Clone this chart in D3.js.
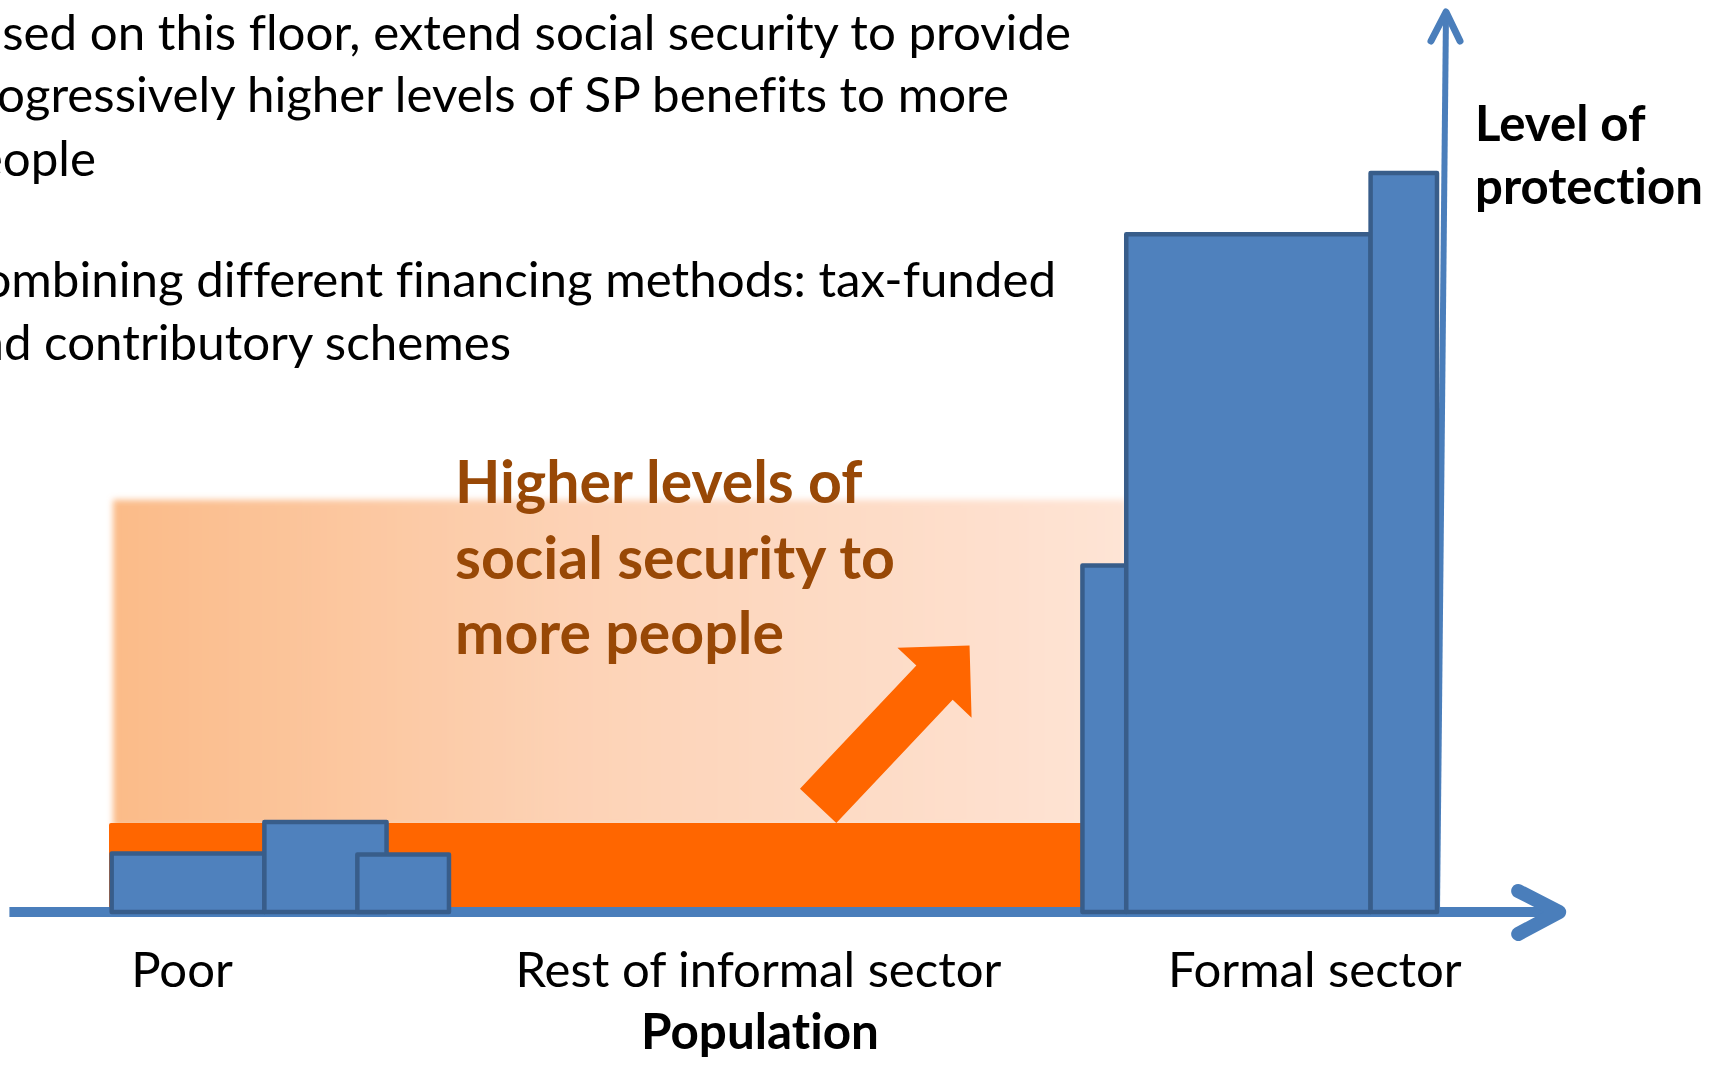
<!DOCTYPE html>
<html>
<head>
<meta charset="utf-8">
<script src="https://cdn.jsdelivr.net/npm/d3@7"></script>
<style>
  html, body { margin: 0; padding: 0; background: #fff; overflow: hidden; }
  svg { display: block; }
  .txt { font-family: Lato, 'Open Sans', sans-serif; fill: #000;
         font-variant-ligatures: none; font-feature-settings: "liga" 0, "dlig" 0; }
</style>
</head>
<body>
<div id="chart"></div>
<script>
// population groups on the x axis (share of population, 0-100)
const segments = ['Poor', 'Rest of informal sector', 'Formal sector'];
const segmentCentres = [5.5, 48.9, 90.8];

// existing protection blocks: start / end on population axis, level of protection
const blockStart = [0.2, 11.7, 18.7, 73.3, 76.6, 95.0];
const blockEnd   = [11.7, 20.9, 25.6, 76.6, 95.0, 100];
const blockLevel = [6.5, 10.0, 6.4, 38.5, 75.3, 82.1];

// social protection floor, and the higher level it should be extended to
const floorFrom = 0, floorTo = 73.3, floorLevel = 9.9;
const targetFrom = 0.3, targetTo = 76.6, targetLevel = 45.8;

// direction arrow (population, level)
const arrowTail = [53.4, 11.8];
const arrowTip  = [64.8, 29.6];

const bulletLines = [
  'Based on this floor, extend social security to provide',
  'progressively higher levels of SP benefits to more',
  'people',
  'Combining different financing methods: tax-funded',
  'and contributory schemes'
];
const calloutLines = ['Higher levels of', 'social security to', 'more people'];
const yTitle = ['Level of', 'protection'];
const xTitle = 'Population';

const W = 1723, H = 1065;
const blue = '#4f81bd', blueLine = '#4a7ebb', blueEdge = '#385d8a', orange = '#ff6600';

const svg = d3.select('#chart').append('svg')
  .attr('width', W).attr('height', H)
  .attr('viewBox', `0 0 ${W} ${H}`);

const x = d3.scaleLinear().domain([0, 100]).range([109, 1437]);
const y = d3.scaleLinear().domain([0, 100]).range([912, 12]);

// font size so that a string has a given width
function fitSize(text, target, weight) {
  const t = svg.append('text').attr('class', 'txt')
    .attr('font-size', 100).attr('font-weight', weight).text(text);
  const w = t.node().getComputedTextLength();
  t.remove();
  return 100 * target / w;
}

const defs = svg.append('defs');
const grad = defs.append('linearGradient').attr('id', 'fade')
  .attr('x1', 0).attr('x2', 1).attr('y1', 0).attr('y2', 0);
grad.append('stop').attr('offset', 0).attr('stop-color', '#fbbb88');
grad.append('stop').attr('offset', 0.45).attr('stop-color', '#fdd2b5');
grad.append('stop').attr('offset', 1).attr('stop-color', '#fee4d5');
defs.append('filter').attr('id', 'soft')
  .attr('x', '-5%').attr('y', '-5%').attr('width', '110%').attr('height', '110%')
  .append('feGaussianBlur').attr('stdDeviation', 3);

// target level (soft faded area)
svg.append('rect')
  .attr('x', x(targetFrom)).attr('y', y(targetLevel))
  .attr('width', x(targetTo) - x(targetFrom))
  .attr('height', y(floorLevel) - y(targetLevel) + 4)
  .attr('fill', 'url(#fade)')
  .attr('filter', 'url(#soft)');

// floor
svg.append('rect')
  .attr('x', x(floorFrom)).attr('y', y(floorLevel))
  .attr('width', x(floorTo) - x(floorFrom))
  .attr('height', y(0) - y(floorLevel))
  .attr('rx', 2)
  .attr('fill', orange);

// arrow
{
  const tx = x(arrowTail[0]), ty = y(arrowTail[1]);
  const px = x(arrowTip[0]), py = y(arrowTip[1]);
  const len = Math.hypot(px - tx, py - ty);
  const ux = (px - tx) / len, uy = (py - ty) / len;
  const nx = -uy, ny = ux;
  const shaft = 25, head = 51, headLen = 51;
  const bx = px - ux * headLen, by = py - uy * headLen;
  const pts = [
    [tx + nx * shaft, ty + ny * shaft],
    [bx + nx * shaft, by + ny * shaft],
    [bx + nx * head, by + ny * head],
    [px, py],
    [bx - nx * head, by - ny * head],
    [bx - nx * shaft, by - ny * shaft],
    [tx - nx * shaft, ty - ny * shaft]
  ];
  svg.append('path').attr('d', d3.line()(pts) + 'Z').attr('fill', orange);
}

// x axis
const xEnd = x(109.2);
svg.append('line')
  .attr('x1', x(-7.5)).attr('x2', xEnd)
  .attr('y1', y(0)).attr('y2', y(0))
  .attr('stroke', blueLine).attr('stroke-width', 10);
svg.append('path')
  .attr('d', d3.line()([[xEnd - 41, y(0) - 21], [xEnd, y(0)], [xEnd - 41, y(0) + 22]]))
  .attr('fill', 'none').attr('stroke', blueLine).attr('stroke-width', 14)
  .attr('stroke-linecap', 'round').attr('stroke-linejoin', 'round');

// y axis (slightly leaning, as drawn)
const yTopX = x(100) + 9;
svg.append('line')
  .attr('x1', x(100)).attr('x2', yTopX)
  .attr('y1', y(0)).attr('y2', y(100))
  .attr('stroke', blueLine).attr('stroke-width', 6);
svg.append('path')
  .attr('d', d3.line()([[yTopX - 15, y(100) + 29], [yTopX, y(100)], [yTopX + 14, y(100) + 29]]))
  .attr('fill', 'none').attr('stroke', blueLine).attr('stroke-width', 7)
  .attr('stroke-linecap', 'round').attr('stroke-linejoin', 'round');

// protection blocks
svg.selectAll('rect.block')
  .data(d3.range(blockStart.length))
  .enter().append('rect')
  .attr('class', 'block')
  .attr('x', i => x(blockStart[i]))
  .attr('y', i => y(blockLevel[i]))
  .attr('width', i => x(blockEnd[i]) - x(blockStart[i]))
  .attr('height', i => y(0) - y(blockLevel[i]))
  .attr('fill', blue)
  .attr('stroke', blueEdge)
  .attr('stroke-width', 4.5)
  .attr('stroke-linejoin', 'round');

// bullet text (cut by the left edge, as in the slide)
const bodySize = fitSize('sed on this floor, extend social security to provide', 1069, 400);
const bodyRight = [1071, 1009, 96, 1056, 511];
const bodyBase = [50, 112, 176, 297, 360];
svg.selectAll('text.bullet')
  .data(bulletLines)
  .enter().append('text')
  .attr('class', 'txt bullet')
  .attr('font-size', bodySize)
  .attr('text-anchor', 'end')
  .attr('x', (d, i) => bodyRight[i])
  .attr('y', (d, i) => bodyBase[i])
  .text(d => d);

// callout
const calloutSize = fitSize(calloutLines[1], 440, 700);
svg.selectAll('text.callout')
  .data(calloutLines)
  .enter().append('text')
  .attr('class', 'txt callout')
  .attr('font-size', calloutSize)
  .attr('font-weight', 700)
  .style('fill', '#984806')
  .attr('x', 455)
  .attr('y', (d, i) => 503 + i * 75.5)
  .text(d => d);

// segment labels
const labelSize = fitSize(segments[1], 486, 400);
svg.selectAll('text.segment')
  .data(segments)
  .enter().append('text')
  .attr('class', 'txt segment')
  .attr('font-size', labelSize)
  .attr('text-anchor', 'middle')
  .attr('x', (d, i) => x(segmentCentres[i]))
  .attr('y', 987)
  .text(d => d);

// axis titles
svg.append('text')
  .attr('class', 'txt')
  .attr('font-size', fitSize(xTitle, 238, 700))
  .attr('font-weight', 700)
  .attr('text-anchor', 'middle')
  .attr('x', 760).attr('y', 1049)
  .text(xTitle);

const yTitleSize = fitSize(yTitle[1], 228, 700);
svg.selectAll('text.ytitle')
  .data(yTitle)
  .enter().append('text')
  .attr('class', 'txt ytitle')
  .attr('font-size', yTitleSize)
  .attr('font-weight', 700)
  .attr('x', 1475)
  .attr('y', (d, i) => 141 + i * 63)
  .text(d => d);
</script>
</body>
</html>
